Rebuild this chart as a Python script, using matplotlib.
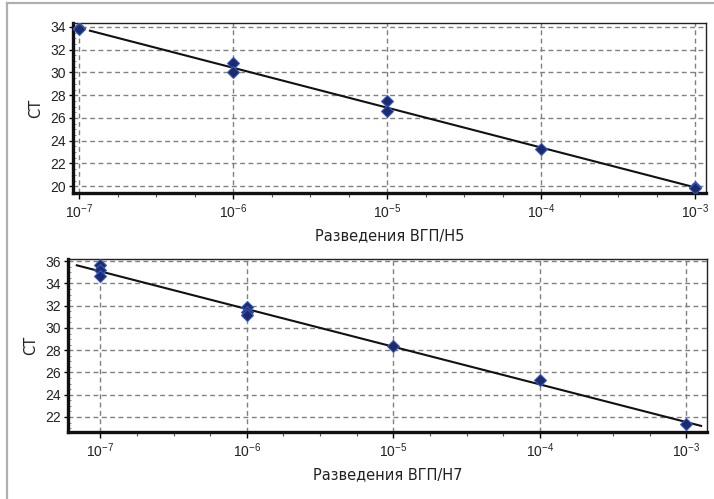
import numpy as np
import matplotlib
matplotlib.use('Agg')
import matplotlib.pyplot as plt
from matplotlib.lines import Line2D
from matplotlib.ticker import FixedLocator, FixedFormatter, MultipleLocator

# dilutions (log10) and CT readings, panel H5
h5_logdil = [-7, -7, -6, -6, -5, -5, -4, -3, -3]
h5_ct = [33.9, 33.8, 30.8, 30.05, 27.5, 26.6, 23.3, 19.9, 19.8]

# panel H7
h7_logdil = [-7, -7, -7, -6, -6, -6, -5, -4, -3]
h7_ct = [35.7, 35.2, 34.7, 31.9, 31.45, 31.15, 28.35, 25.35, 21.35]

xticks = [-7, -6, -5, -4, -3]
xticklabels = ['10$^{\\mathregular{-7}}$', '10$^{\\mathregular{-6}}$', '10$^{\\mathregular{-5}}$',
               '10$^{\\mathregular{-4}}$', '10$^{\\mathregular{-3}}$']

panels = [
    dict(x=h5_logdil, y=h5_ct, xlabel='Разведения ВГП/Н5',
         pos=[0.1022, 0.6132, 0.8866, 0.3407], xlim=(-7.04, -2.93), ylim=(19.4, 34.35),
         yticks=np.arange(20, 35, 2), fit=(-6.93, -2.97)),
    dict(x=h7_logdil, y=h7_ct, xlabel='Разведения ВГП/Н7',
         pos=[0.0952, 0.1343, 0.8950, 0.3467], xlim=(-7.22, -2.86), ylim=(20.65, 36.2),
         yticks=np.arange(22, 37, 2), fit=(-7.16, -2.9)),
]

fig = plt.figure(figsize=(7.14, 4.99), dpi=100)
plt.rcParams['font.family'] = ['Liberation Sans', 'DejaVu Sans']
plt.rcParams['mathtext.default'] = 'regular'

for p in panels:
    ax = fig.add_axes(p['pos'])
    ax.set_xlim(*p['xlim'])
    ax.set_ylim(*p['ylim'])

    ax.grid(True, color='#808080', linestyle=(0, (3.5, 2.5)), linewidth=1.0)
    ax.set_axisbelow(True)

    # regression line
    k, b = np.polyfit(p['x'], p['y'], 1)
    xf = np.array(p['fit'])
    ax.plot(xf, k * xf + b, color='#111111', lw=1.5, zorder=3)

    ax.plot(p['x'], p['y'], linestyle='none', marker='D', markersize=6.2,
            markerfacecolor='#1c2a6e', markeredgecolor='#3a5ab8', markeredgewidth=0.8, zorder=4)

    ax.xaxis.set_major_locator(FixedLocator(xticks))
    ax.xaxis.set_major_formatter(FixedFormatter(xticklabels))
    ax.xaxis.set_minor_locator(MultipleLocator(0.25))
    ax.set_yticks(p['yticks'])
    ax.yaxis.set_minor_locator(MultipleLocator(0.5))

    ax.tick_params(axis='x', which='major', direction='out', length=4, width=1,
                   labelsize=10, labelcolor='#222222', pad=3)
    ax.tick_params(axis='x', which='minor', direction='out', length=3, width=0.8, color='#555555')
    ax.tick_params(axis='y', which='major', direction='out', length=3, width=1,
                   labelsize=10, labelcolor='#222222', pad=2)
    ax.tick_params(axis='y', which='minor', direction='in', length=2, width=0.6, color='#777777')

    for side in ['left', 'bottom']:
        ax.spines[side].set_linewidth(2.4)
        ax.spines[side].set_color('#111111')
    for side in ['top', 'right']:
        ax.spines[side].set_linewidth(1.0)
        ax.spines[side].set_color('#222222')

    ax.set_xlabel(p['xlabel'], fontsize=10.5, color='#222222', family='DejaVu Sans', labelpad=5)
    ax.set_ylabel('CT', fontsize=10.5, color='#222222', family='DejaVu Sans', labelpad=5)

# thin grey frame of the original picture
fig.add_artist(Line2D([7 / 714, 7 / 714], [0, 1 - 3 / 499], color='#b0b0b0', lw=1.6))
fig.add_artist(Line2D([7 / 714, 1], [1 - 3 / 499, 1 - 3 / 499], color='#b0b0b0', lw=1.6))

plt.savefig('out.png', dpi=100)
